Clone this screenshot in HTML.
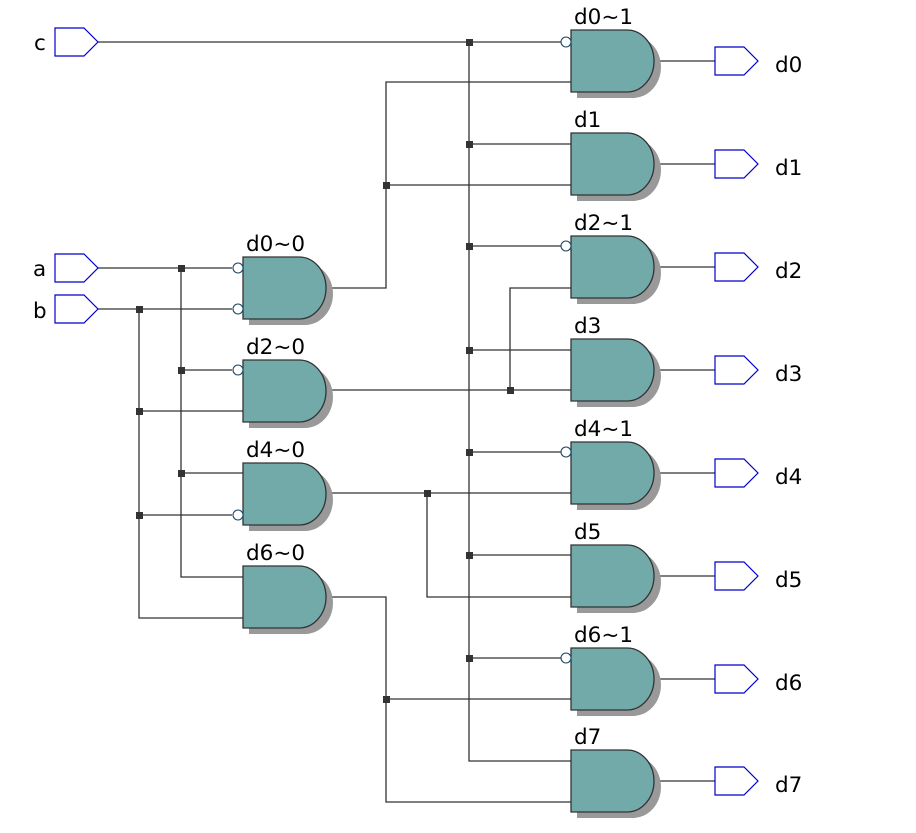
<!DOCTYPE html>
<html><head><meta charset="utf-8"><style>html,body{margin:0;padding:0;background:#fff}</style></head>
<body>
<svg width="916" height="828" xmlns="http://www.w3.org/2000/svg" font-family="DejaVu Sans, Liberation Sans, sans-serif" font-size="21.5">
<defs>
<g id="gate">
<path d="M6,6 H62 A28,31 0 0 1 62,68 H6 Z" fill="#999"/>
<path d="M0,0 H56 A27,31 0 0 1 56,62 H0 Z" fill="#72aaaa" stroke="#333" stroke-width="1.3"/>
</g>
<path id="port" d="M0,-14 H29 L43,0 L29,14 H0 Z" fill="#fff" stroke="#0000cc" stroke-width="1.2"/>
</defs>
<g stroke="#333" stroke-width="1.3" fill="none">
<path d="M98,42 H562"/>
<path d="M469,42 V761 H571"/>
<path d="M469,144 H571 M469,246 H562 M469,350 H571 M469,452 H562 M469,555 H571 M469,658 H562"/>
<path d="M98,268 H232 M181,268 V577 H243 M181,370 H232 M181,473 H243"/>
<path d="M98,309 H232 M139,309 V618 H243 M139,411 H243 M139,515 H232"/>
<path d="M325,288 H386 V82 H571 M386,185 H571"/>
<path d="M325,390 H571 M510,390 V288 H571"/>
<path d="M325,493 H571 M427,493 V597 H571"/>
<path d="M325,597 H386 V802 H571 M386,699 H571"/>
<path d="M653,61 H715 M653,164 H715 M653,267 H715 M653,370 H715 M653,473 H715 M653,576 H715 M653,679 H715 M653,781 H715"/>
</g>
<g fill="#333">
<rect x="466" y="39" width="7" height="7"/><rect x="466" y="141" width="7" height="7"/><rect x="466" y="243" width="7" height="7"/><rect x="466" y="347" width="7" height="7"/><rect x="466" y="449" width="7" height="7"/><rect x="466" y="552" width="7" height="7"/><rect x="466" y="655" width="7" height="7"/>
<rect x="178" y="265" width="7" height="7"/><rect x="178" y="367" width="7" height="7"/><rect x="178" y="470" width="7" height="7"/>
<rect x="136" y="306" width="7" height="7"/><rect x="136" y="408" width="7" height="7"/><rect x="136" y="512" width="7" height="7"/>
<rect x="383" y="182" width="7" height="7"/><rect x="507" y="387" width="7" height="7"/><rect x="424" y="490" width="7" height="7"/><rect x="383" y="696" width="7" height="7"/>
</g>
<use href="#gate" x="571" y="30"/><use href="#gate" x="571" y="133"/><use href="#gate" x="571" y="236"/><use href="#gate" x="571" y="339"/>
<use href="#gate" x="571" y="442"/><use href="#gate" x="571" y="545"/><use href="#gate" x="571" y="648"/><use href="#gate" x="571" y="750"/>
<use href="#gate" x="243" y="257"/><use href="#gate" x="243" y="360"/><use href="#gate" x="243" y="463"/><use href="#gate" x="243" y="566"/>
<g fill="#fff" stroke="#1a4a6a" stroke-width="1.1">
<circle cx="566" cy="42" r="5"/><circle cx="566" cy="246" r="5"/><circle cx="566" cy="452" r="5"/><circle cx="566" cy="658" r="5"/>
<circle cx="238" cy="268" r="5"/><circle cx="238" cy="309" r="5"/><circle cx="238" cy="370" r="5"/><circle cx="238" cy="515" r="5"/>
</g>
<use href="#port" x="55" y="42"/><use href="#port" x="55" y="268"/><use href="#port" x="55" y="309"/>
<use href="#port" x="715" y="61"/><use href="#port" x="715" y="164"/><use href="#port" x="715" y="267"/><use href="#port" x="715" y="370"/>
<use href="#port" x="715" y="473"/><use href="#port" x="715" y="576"/><use href="#port" x="715" y="679"/><use href="#port" x="715" y="781"/>
<g fill="#000">
<text x="34" y="50">c</text><text x="33" y="276">a</text><text x="33" y="318">b</text>
<text x="775" y="72">d0</text><text x="775" y="175">d1</text><text x="775" y="278">d2</text><text x="775" y="381">d3</text>
<text x="775" y="484">d4</text><text x="775" y="587">d5</text><text x="775" y="690">d6</text><text x="775" y="792">d7</text>
<text x="574" y="24">d0~1</text><text x="574" y="127">d1</text><text x="574" y="230">d2~1</text><text x="574" y="333">d3</text>
<text x="574" y="436">d4~1</text><text x="574" y="539">d5</text><text x="574" y="642">d6~1</text><text x="574" y="744">d7</text>
<text x="246" y="251">d0~0</text><text x="246" y="354">d2~0</text><text x="246" y="457">d4~0</text><text x="246" y="560">d6~0</text>
</g>
</svg>
</body></html>
